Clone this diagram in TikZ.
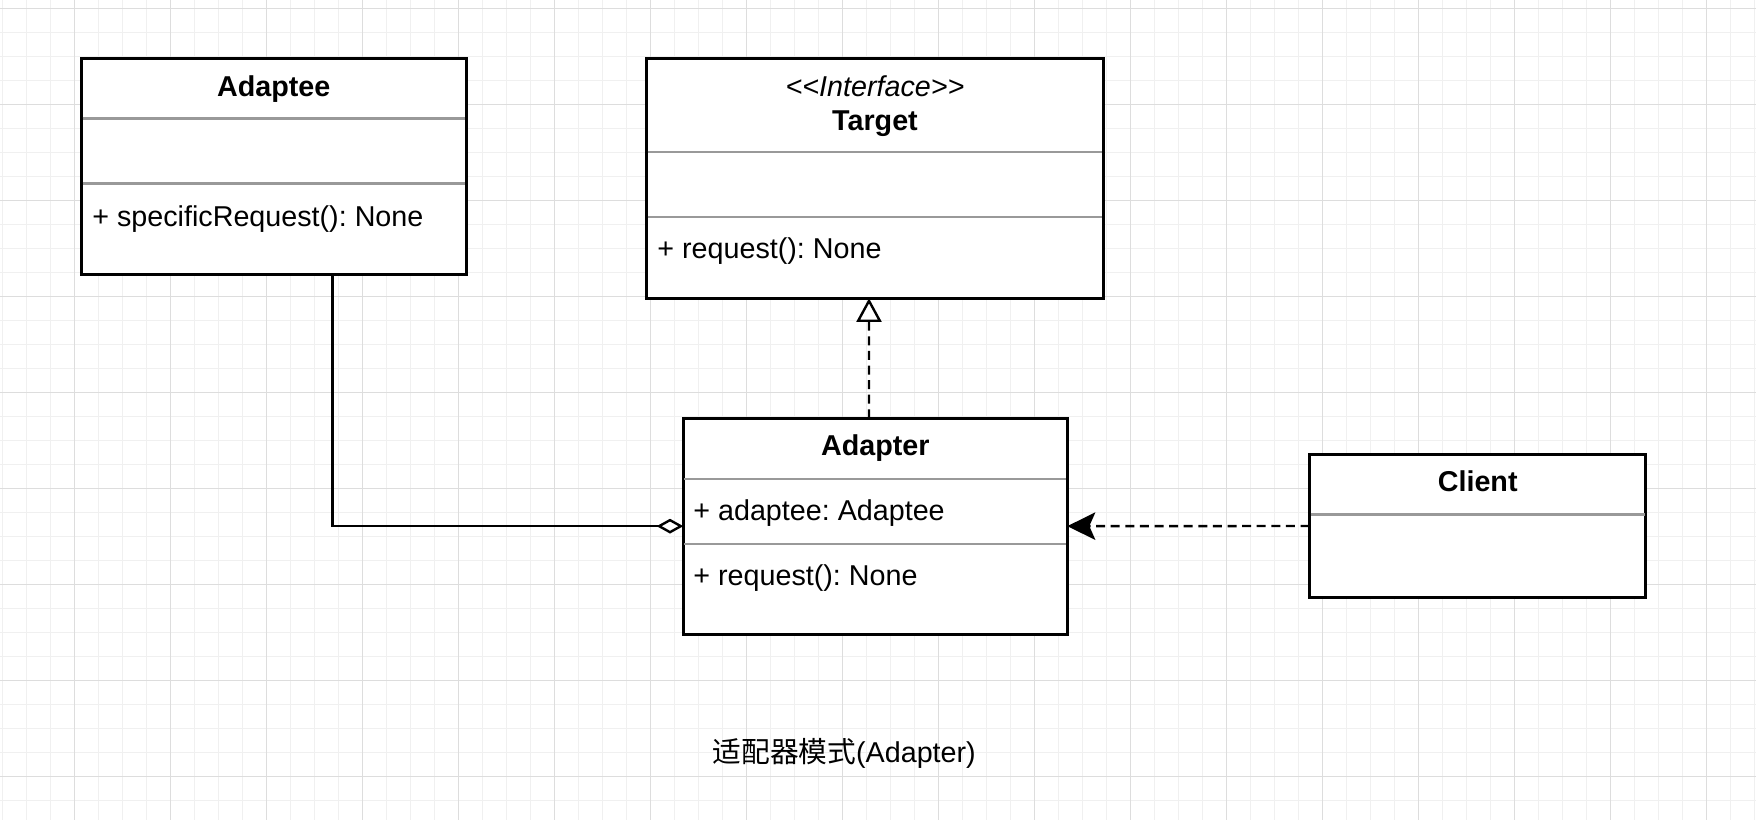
\documentclass[tikz,border=0pt]{standalone}
\usepackage{fontspec}
\setmainfont{Liberation Sans}
\newfontfamily\cjk{Noto Sans CJK SC}
\usetikzlibrary{arrows.meta,calc,fit}
\definecolor{gridmajor}{HTML}{DDDDDD}
\definecolor{gridminor}{HTML}{F0F0F0}
\definecolor{divgray}{HTML}{999999}
\frenchspacing
\begin{document}
\begin{tikzpicture}[x=0.5bp,y=-0.5bp,
  classbox/.style={draw,line width=1.5bp,inner sep=0,outer sep=0,fill=white},
  divider/.style={draw=divgray,line width=1.2bp},
  umlfont/.style={font=\fontsize{14.35bp}{17bp}\selectfont,inner sep=0},
  title/.style={umlfont,font=\fontsize{14.35bp}{17bp}\selectfont\bfseries,anchor=base},
  member/.style={umlfont,anchor=base west},
  conn/.style={line width=1.2bp},
  dashline/.style={conn,dash pattern=on 4.5bp off 2.8bp}]
\useasboundingbox (0,0) rectangle (1756,820);
\fill[white] (0,0) rectangle (1756,820);
\foreach \gx in {2.3,26.3,...,1756} \draw[gridminor,line width=0.6bp] (\gx,0) -- (\gx,820);
\foreach \gy in {8.3,32.3,...,820} \draw[gridminor,line width=0.6bp] (0,\gy) -- (1756,\gy);
\foreach \gx in {74.3,170.3,...,1756} \draw[gridmajor,line width=0.7bp] (\gx,0) -- (\gx,820);
\foreach \gy in {8.3,104.3,...,820} \draw[gridmajor,line width=0.7bp] (0,\gy) -- (1756,\gy);

\node[classbox,fit={(81.5,58) (466,274)}] (adaptee) {};
\draw[divider] (82.5,118.3) -- (465,118.3);
\draw[divider] (82.5,183.3) -- (465,183.3);
\node[title] (adapteename) at (273.8,96) {Adaptee};
\node[member] (adapteeop) at (92,226.5) {+ specificRequest(): None};

\node[classbox,fit={(646.7,58.3) (1103.3,298.3)}] (target) {};
\draw[divider] (647.7,151.7) -- (1102.3,151.7);
\draw[divider] (647.7,216.7) -- (1102.3,216.7);
\node[umlfont,anchor=base] (targetstereo) at (875,96) {\itshape <{}<Interface>{}>};
\node[title] (targetname) at (875,130) {Target};
\node[member] (targetop) at (657,258.5) {+ request(): None};

\node[classbox,fit={(683.3,418.3) (1067.3,634)}] (adapter) {};
\draw[divider] (684.3,479) -- (1066.3,479);
\draw[divider] (684.3,544) -- (1066.3,544);
\node[title] (adaptername) at (875.3,455.7) {Adapter};
\node[member] (adapterattr) at (693,520) {+ adaptee: Adaptee};
\node[member] (adapterop) at (693,585) {+ request(): None};

\node[classbox,fit={(1309.5,454.3) (1645.9,597.7)}] (client) {};
\draw[divider] (1310.5,514.3) -- (1644.9,514.3);
\node[title] (clientname) at (1477.7,491.7) {Client};

\draw[conn,-{Diamond[fill=white,length=13.3bp,width=7.4bp]}] ($(adaptee.south)+(58.8,0)$) |- (adapter.west);
\draw[dashline,-{Triangle[fill=white,length=11.8bp,width=12.5bp]}] ($(adapter.north)+(-6.3,0)$) -- ($(target.south)+(-6,0)$);
\draw[dashline,-{Stealth[length=14bp,width=13.7bp,inset=3bp]}] (client.west) -- (adapter.east);

\node[umlfont,anchor=base] (caption) at (844.2,762.7) {{\cjk 适配器模式}(Adapter)};
\end{tikzpicture}
\end{document}
